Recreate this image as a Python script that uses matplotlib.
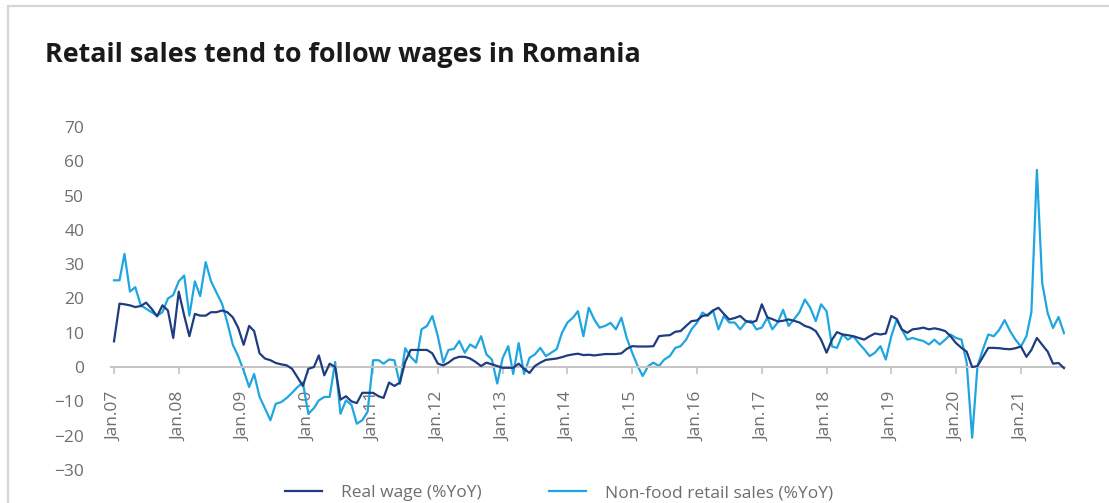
import matplotlib
matplotlib.use("Agg")
import matplotlib.pyplot as plt
import matplotlib.dates as mdates
import pandas as pd
from matplotlib.lines import Line2D

plt.rcParams["font.family"] = ["Open Sans", "DejaVu Sans"]

# monthly data, Jan 2007 .. Sep 2021 (%YoY)
start_month = "2007-01-01"
end_month = "2021-09-01"

real_wage = [
    7.5, 18.5, 18.3, 18.0, 17.5, 17.8, 18.8, 17.0, 14.8, 18.0, 16.5, 8.5,
    22.0, 15.0, 9.0, 15.5, 15.0, 15.0, 16.0, 16.0, 16.5, 16.0, 14.5, 11.5,
    6.5, 12.0, 10.5, 4.0, 2.5, 2.0, 1.2, 0.8, 0.5, -0.5, -3.0, -5.5,
    -0.5, 0.0, 3.4, -2.4, 1.0, 0.0, -9.5, -8.5, -10.0, -10.5, -7.5, -7.5,
    -7.5, -8.5, -9.0, -4.5, -5.5, -4.5, 1.5, 5.0, 5.0, 5.0, 5.0, 4.0,
    1.0, 0.5, 1.3, 2.5, 3.0, 3.0, 2.5, 1.5, 0.3, 1.3, 0.8, 0.3,
    -0.2, -0.2, -0.2, 1.0, -0.5, -1.7, 0.3, 1.3, 2.1, 2.3, 2.5, 2.9,
    3.4, 3.7, 3.9, 3.5, 3.6, 3.4, 3.6, 3.8, 3.8, 3.8, 4.0, 5.3,
    6.1, 6.0, 6.0, 6.0, 6.1, 9.0, 9.2, 9.3, 10.3, 10.5, 12.0, 13.4,
    13.6, 14.9, 15.2, 16.5, 17.3, 15.5, 13.9, 14.3, 14.9, 13.5, 13.0, 13.5,
    18.3, 14.5, 14.0, 13.3, 13.5, 13.9, 13.5, 13.0, 12.0, 11.5, 10.5, 8.0,
    4.2, 8.0, 10.2, 9.5, 9.3, 9.0, 8.5, 8.0, 9.0, 9.8, 9.5, 9.8,
    14.9, 14.0, 11.0, 10.0, 11.0, 11.2, 11.5, 11.0, 11.3, 11.0, 10.5, 9.0,
    7.0, 5.6, 4.5, 0.0, 0.3, 3.0, 5.6, 5.6, 5.5, 5.3, 5.2, 5.5,
    6.0, 3.0, 5.0, 8.5, 6.5, 4.5, 1.0, 1.2, -0.3,
]

nonfood_retail = [
    25.3, 25.3, 33.0, 22.0, 23.3, 18.0, 17.0, 16.0, 15.0, 16.0, 20.0, 21.0,
    25.0, 26.7, 15.0, 25.0, 20.7, 30.6, 25.0, 21.7, 18.5, 13.0, 6.5, 3.2,
    -1.0, -5.8, -2.0, -8.7, -12.0, -15.5, -10.7, -10.2, -9.0, -7.5, -5.8, -4.5,
    -13.6, -12.0, -9.7, -8.7, -8.7, 1.5, -13.6, -9.7, -11.0, -16.5, -15.5, -13.0,
    2.0, 2.0, 1.0, 2.2, 2.0, -4.9, 5.5, 3.0, 1.3, 11.0, 12.0, 14.9,
    9.0, 1.3, 5.0, 5.3, 7.6, 4.2, 6.6, 5.6, 9.0, 3.7, 2.2, -4.8,
    2.7, 6.1, -2.0, 7.0, -2.0, 2.7, 3.7, 5.6, 3.2, 4.2, 5.2, 10.0,
    13.0, 14.4, 16.3, 9.0, 17.3, 13.9, 11.5, 12.0, 12.9, 11.0, 14.4, 8.5,
    4.2, 0.3, -2.6, 0.3, 1.3, 0.3, 2.2, 3.2, 5.6, 6.1, 8.0, 11.0,
    12.9, 15.9, 14.9, 16.5, 11.0, 14.9, 13.0, 13.0, 11.0, 13.0, 13.5, 11.0,
    11.5, 14.4, 11.0, 13.0, 16.7, 12.0, 13.9, 16.0, 19.7, 17.3, 13.4, 18.3,
    16.3, 6.0, 5.6, 9.5, 8.0, 9.0, 7.0, 5.2, 3.2, 4.2, 6.1, 2.2,
    9.0, 13.9, 11.0, 8.0, 8.5, 8.0, 7.6, 6.6, 8.0, 6.6, 8.0, 9.5,
    8.5, 8.0, 1.3, -20.6, 0.3, 5.2, 9.5, 9.0, 10.9, 13.7, 10.5, 8.0,
    6.0, 9.0, 16.0, 57.5, 24.5, 15.7, 11.4, 14.6, 9.9,
]

y_ticks = [-30, -20, -10, 0, 10, 20, 30, 40, 50, 60, 70]
series_labels = ["Real wage (%YoY)", "Non-food retail sales (%YoY)"]
title = "Retail sales tend to follow wages in Romania"

DARK = "#1f3c80"
LIGHT = "#1fa6e0"
GREY_TXT = "#6e6e6e"

months = pd.date_range(start_month, end_month, freq="MS")
df = pd.DataFrame({"wage": real_wage, "retail": nonfood_retail}, index=months)

fig = plt.figure(figsize=(11.09, 5.03), dpi=100)
ax = fig.add_axes([0.1004, 0.0656, 0.860, 0.682])

ax.plot(df.index, df["wage"], color=DARK, lw=1.6, zorder=3)
ax.plot(df.index, df["retail"], color=LIGHT, lw=1.6, zorder=2)

ax.set_ylim(-30, 70)
ax.set_yticks(y_ticks)
ax.set_xlim(months[0] - pd.Timedelta(days=15), months[-1] + pd.Timedelta(days=6))

# x axis drawn at zero, ticks every January
for side in ["top", "right", "left"]:
    ax.spines[side].set_visible(False)
ax.spines["bottom"].set_position(("data", 0))
ax.spines["bottom"].set_color("#c4c4c4")
ax.spines["bottom"].set_linewidth(1.4)

ax.xaxis.set_major_locator(mdates.YearLocator(month=1, day=1))
ax.xaxis.set_major_formatter(mdates.DateFormatter("Jan.%y"))
ax.tick_params(axis="x", length=5, width=1.2, color="#c4c4c4", pad=13,
               labelsize=12.5, labelcolor=GREY_TXT, labelrotation=90)
ax.tick_params(axis="y", length=0, pad=19.5, labelsize=12.5, labelcolor=GREY_TXT)
for lbl in ax.get_xticklabels():
    lbl.set_verticalalignment("top")

# frame lines on top and left of the card
fig.add_artist(Line2D([8 / 1109, 8 / 1109], [0, 1 - 6 / 503], color="#d6d6d6", lw=1.6))
fig.add_artist(Line2D([8 / 1109, 1], [1 - 6 / 503, 1 - 6 / 503], color="#d6d6d6", lw=1.6))

fig.text(45 / 1109, 1 - 55 / 503, title, fontsize=19.4, fontweight="bold",
         color="#1a1a1a", va="center", ha="left")

handles = [Line2D([], [], color=DARK, lw=1.6), Line2D([], [], color=LIGHT, lw=1.6)]
fig.legend(handles, series_labels, loc="center", bbox_to_anchor=(0.504, 0.02),
           ncol=2, frameon=False, fontsize=12.5, labelcolor=GREY_TXT,
           handlelength=2.13, handletextpad=1.1, columnspacing=3.85)

fig.savefig("out.png", dpi=100)
